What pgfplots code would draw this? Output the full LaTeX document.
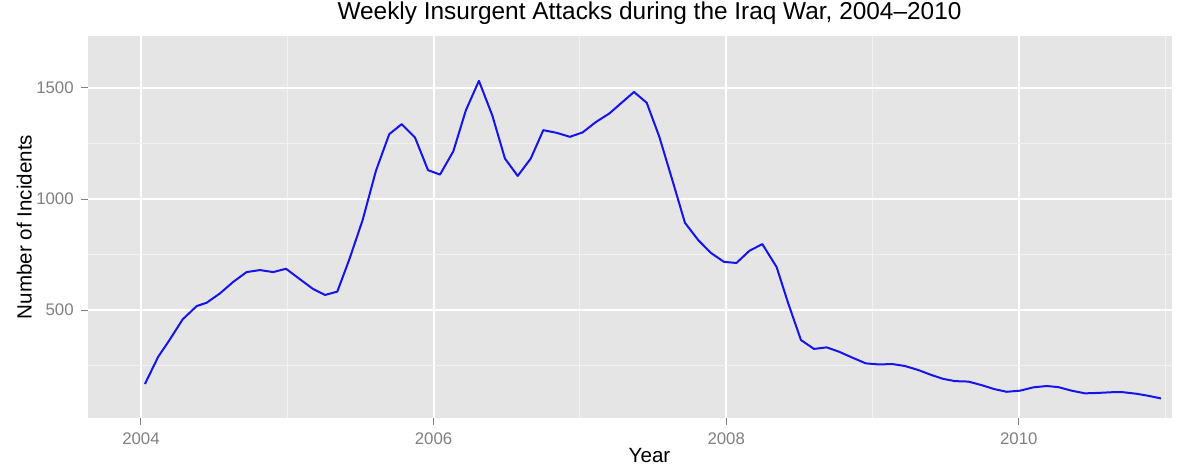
\documentclass[border=0pt]{standalone}
\usepackage{fontspec}
\setmainfont{Liberation Sans}
\usepackage{pgfplots}
\pgfplotsset{compat=1.18}
\definecolor{panelbg}{RGB}{229,229,229}
\definecolor{minorgrid}{RGB}{242,242,242}
\definecolor{tickgray}{RGB}{127,127,127}
\definecolor{lineblue}{RGB}{20,20,235}
\begin{document}
\begin{tikzpicture}
\useasboundingbox (0,0) rectangle (598pt,233pt);
\begin{axis}[
  at={(44pt,24pt)}, anchor=south west,
  scale only axis, width=542pt, height=191pt,
  xmin=2003.638, xmax=2011.047,
  ymin=14, ymax=1734,
  axis line style={draw=none},
  axis background/.style={fill=panelbg},
  xtick={2004,2006,2008,2010}, xticklabels={2004,2006,2008,2010},
  ytick={500,1000,1500}, yticklabels={500,1000,1500},
  minor xtick={2005,2007,2009,2011},
  minor ytick={250,750,1250},
  grid=both,
  major grid style={white, line width=1pt},
  minor grid style={minorgrid, line width=0.5pt},
  xtick pos=bottom, ytick pos=left,
  tick align=outside,
  major tick length=3.5pt, minor tick length=0pt,
  tick style={tickgray, line width=0.5pt},
  xticklabel style={anchor=base, yshift=-10pt, text=tickgray, font=\fontsize{8.4}{10}\selectfont},
  yticklabel style={anchor=east, inner sep=0pt, xshift=-3.5pt, text=tickgray, font=\fontsize{8.4}{10}\selectfont},
  title={Weekly Insurgent Attacks during the Iraq War, 2004--2010},
  title style={at={(0.518,1.0105)}, anchor=base, font=\fontsize{12.2}{14}\selectfont},
  xlabel={Year},
  xlabel style={at={(0.518,-0.1170)}, anchor=base, inner sep=0pt, font=\fontsize{10.3}{12}\selectfont},
  ylabel={Number of Incidents},
  ylabel style={at={(-0.0520,0.5)}, anchor=base, inner sep=0pt, font=\fontsize{10.3}{12}\selectfont},
]
\addplot[lineblue, line width=1pt, line join=round] table {
x y
2004.027 167
2004.118 290
2004.187 357
2004.285 458
2004.381 518
2004.449 533
2004.540 575
2004.631 627
2004.722 671
2004.813 680
2004.904 671
2004.991 686
2005.082 641
2005.174 596
2005.258 568
2005.342 583
2005.424 728
2005.515 905
2005.606 1127
2005.697 1292
2005.782 1337
2005.873 1277
2005.962 1130
2006.044 1110
2006.135 1215
2006.221 1400
2006.310 1532
2006.401 1377
2006.488 1182
2006.575 1104
2006.664 1182
2006.750 1310
2006.841 1298
2006.932 1280
2007.019 1300
2007.110 1347
2007.201 1385
2007.286 1434
2007.370 1482
2007.457 1433
2007.543 1280
2007.632 1085
2007.718 893
2007.809 815
2007.896 757
2007.985 717
2008.070 712
2008.159 767
2008.247 797
2008.345 693
2008.424 530
2008.511 365
2008.600 325
2008.687 332
2008.773 312
2008.865 285
2008.954 260
2009.044 255
2009.135 257
2009.222 248
2009.313 230
2009.405 207
2009.484 190
2009.564 180
2009.655 178
2009.746 162
2009.833 144
2009.917 132
2010.008 137
2010.099 152
2010.191 158
2010.270 153
2010.361 137
2010.452 125
2010.543 127
2010.635 130
2010.714 130
2010.806 123
2010.885 114
2010.972 102
};
\end{axis}
\end{tikzpicture}
\end{document}
